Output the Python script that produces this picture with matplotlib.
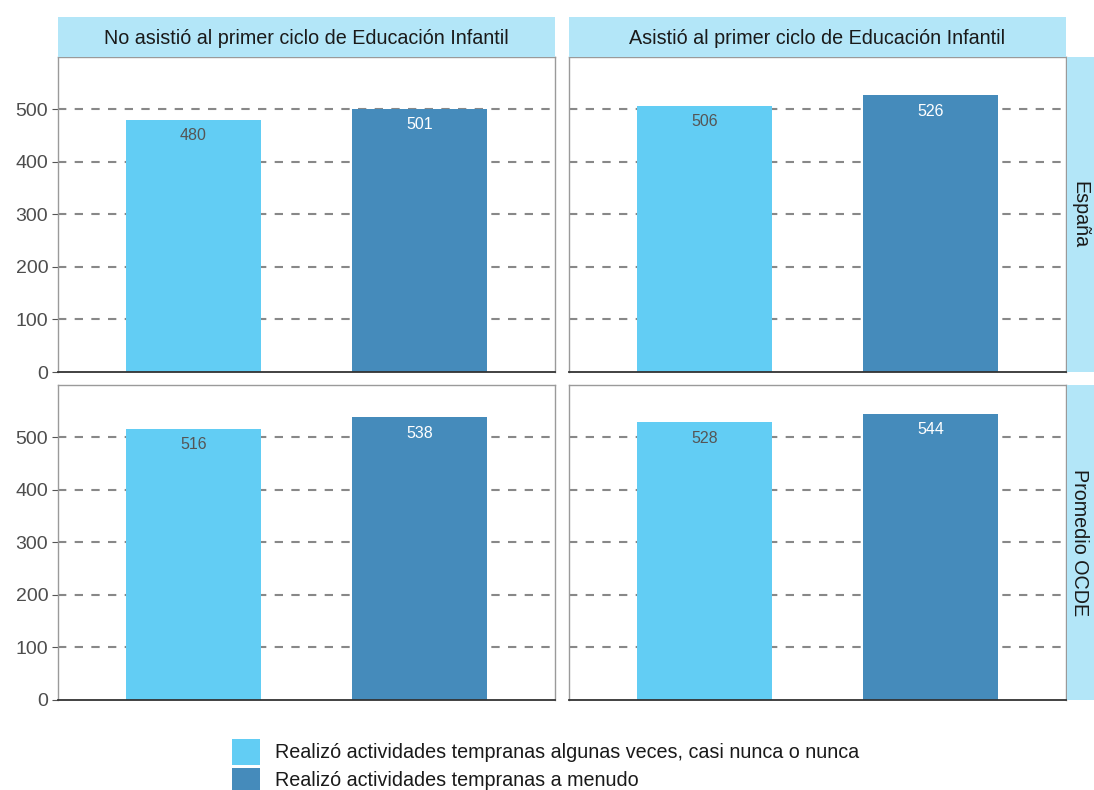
import matplotlib
matplotlib.use("Agg")
import matplotlib.pyplot as plt
from matplotlib.patches import Rectangle

plt.rcParams['font.family'] = ['Liberation Sans', 'DejaVu Sans']

col_titles = ["No asistió al primer ciclo de Educación Infantil",
              "Asistió al primer ciclo de Educación Infantil"]
row_titles = ["España", "Promedio OCDE"]
series_names = ["Realizó actividades tempranas algunas veces, casi nunca o nunca",
                "Realizó actividades tempranas a menudo"]
# values[row][col] = [algunas veces, a menudo]
espana_no = [480, 501]
espana_si = [506, 526]
ocde_no = [516, 538]
ocde_si = [528, 544]
values = [[espana_no, espana_si], [ocde_no, ocde_si]]
yticks = [0, 100, 200, 300, 400, 500]

colors = ["#62CDF4", "#458BBB"]
label_colors = ["#555555", "#FFFFFF"]
strip_color = "#B3E6F8"

W, H = 1094, 790
fig = plt.figure(figsize=(W / 100, H / 100), dpi=100)

lefts = [58, 569]
pw = 497
tops = [57, 385]
ph = 315

for r in range(2):
    for c in range(2):
        ax = fig.add_axes([lefts[c] / W, 1 - (tops[r] + ph) / H, pw / W, ph / H])
        vals = values[r][c]
        xs = [1, 2]
        ax.set_xlim(0.4, 2.6)
        ax.set_ylim(0, 599)
        for y in yticks[1:]:
            ax.axhline(y, color="#888888", lw=1.5, ls=(0, (4, 4)), zorder=1)
        ax.bar(xs, vals, width=0.6, color=colors, zorder=2)
        for x, v, lc in zip(xs, vals, label_colors):
            ax.annotate(str(v), (x, v), xytext=(0, -11.5), textcoords="offset points",
                        ha="center", va="center", fontsize=11.5, color=lc, zorder=3)
        ax.set_xticks([])
        ax.set_yticks(yticks)
        if c == 0:
            ax.tick_params(axis="y", length=4, color="#555555", labelsize=14,
                           labelcolor="#4D4D4D", pad=3)
        else:
            ax.tick_params(axis="y", length=0, labelleft=False)
        for s in ["top", "right", "left"]:
            ax.spines[s].set_color("#9A9A9A")
            ax.spines[s].set_linewidth(1.0)
        ax.spines["bottom"].set_color("#333333")
        ax.spines["bottom"].set_linewidth(1.3)
        ax.set_facecolor("white")

# column strips
for c in range(2):
    fig.patches.append(Rectangle((lefts[c] / W, 1 - 57 / H), pw / W, 40 / H,
                                 transform=fig.transFigure, facecolor=strip_color,
                                 edgecolor="none"))
    fig.text((lefts[c] + pw / 2) / W, 1 - 38 / H, col_titles[c], ha="center",
             va="center", fontsize=14.2, color="#1A1A1A")

# row strips
for r in range(2):
    fig.patches.append(Rectangle((1067 / W, 1 - (tops[r] + ph) / H), 40 / W, ph / H,
                                 transform=fig.transFigure, facecolor=strip_color,
                                 edgecolor="none"))
    fig.text(1080 / W, 1 - (tops[r] + ph / 2) / H, row_titles[r], ha="center",
             va="center", rotation=-90, fontsize=14.2, color="#1A1A1A")

# legend
ys = [752, 781]
for i in range(2):
    fig.patches.append(Rectangle((232 / W, 1 - (ys[i] + 13) / H), 28 / W, 26 / H,
                                 transform=fig.transFigure, facecolor=colors[i],
                                 edgecolor="none"))
    fig.text(275 / W, 1 - ys[i] / H, series_names[i], ha="left", va="center",
             fontsize=14.2, color="#1A1A1A")

fig.savefig("out.png", dpi=100)
